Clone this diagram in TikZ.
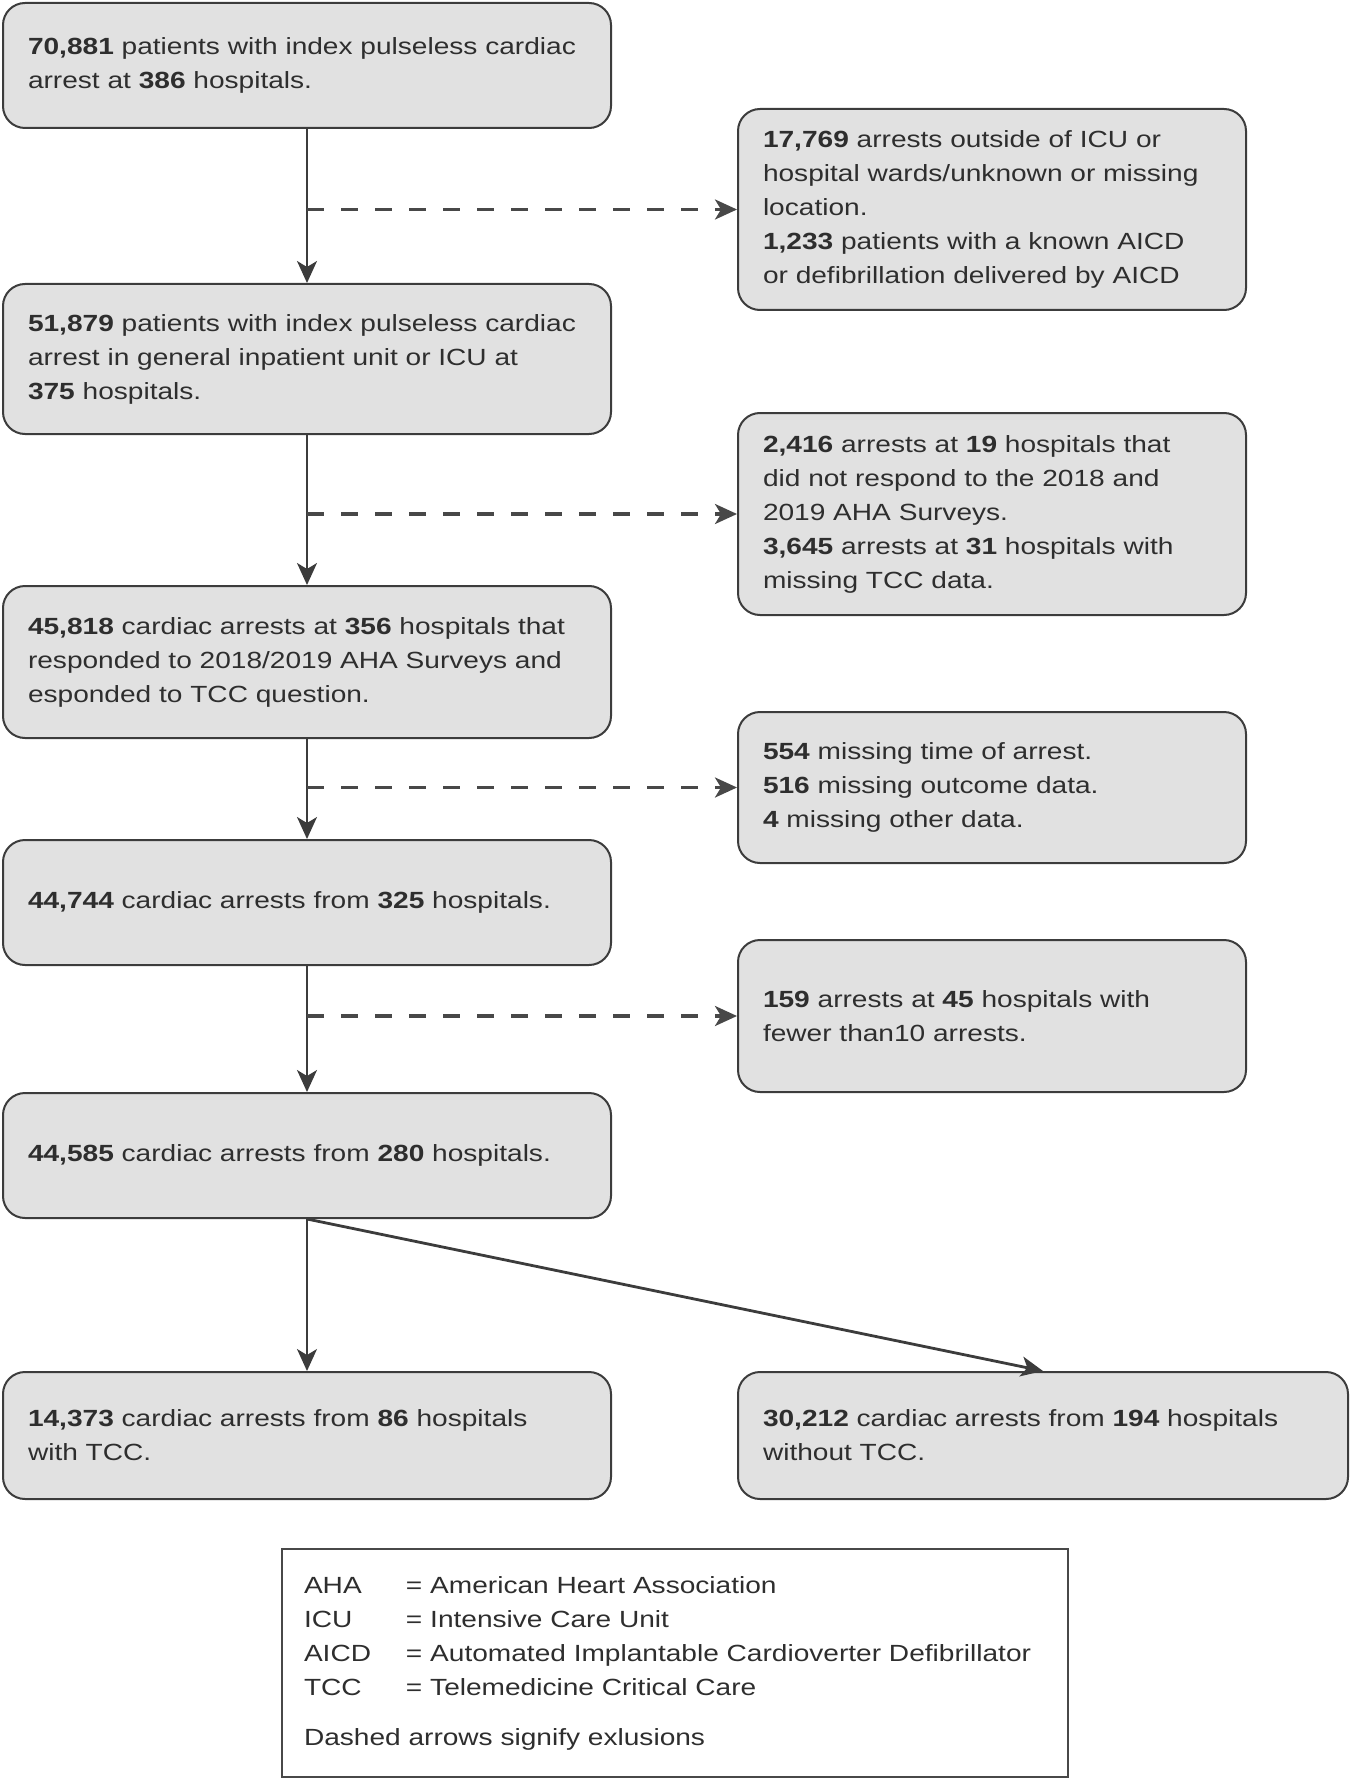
\documentclass[tikz,border=0pt]{standalone}
\usepackage{fontspec}
\setmainfont{Liberation Sans}[FakeStretch=1.2]
\usetikzlibrary{arrows.meta}
\definecolor{boxfill}{HTML}{E1E1E1}
\definecolor{boxline}{HTML}{3C3C3C}
\definecolor{txt}{HTML}{2E2E2E}
\definecolor{dashcol}{HTML}{484848}

\begin{document}
\begin{tikzpicture}[
            x = 0.5pt, y = -0.5pt, % pixel grid, y pointing down
            > = {Stealth[length=11pt,width=10pt,inset=3pt]}, % arrow head style
            line width = 1pt % line style
        ]

        \tikzstyle{every node}=[
            font = \fontsize{11.7}{17}\selectfont,
            text = txt
        ]
        \tikzstyle{box}=[
            draw = boxline,
            line width = 1pt,
            fill = boxfill,
            rounded corners = 11pt,
            align = left,
            inner xsep = 12.5pt,
            inner ysep = 0pt
        ]
        \tikzstyle{main}=[box, text width = 279pt]
        \tikzstyle{excl}=[box, text width = 229pt]
        \tikzstyle{cut}=[->, draw = dashcol, line width = 1.6pt, dash pattern = on 8.5pt off 8.5pt]

        \useasboundingbox (0,0) rectangle (1350,1781);

        \node[main, minimum height = 62.5pt] (a) at (307,65.5)
            {\textbf{70,881} patients with index pulseless cardiac\\arrest at \textbf{386} hospitals.};
        \node[main, minimum height = 75pt] (b) at (307,359)
            {\textbf{51,879} patients with index pulseless cardiac\\arrest in general inpatient unit or ICU at\\\textbf{375} hospitals.};
        \node[main, minimum height = 76pt] (c) at (307,662)
            {\textbf{45,818} cardiac arrests at \textbf{356} hospitals that\\responded to 2018/2019 AHA Surveys and\\esponded to TCC question.};
        \node[main, minimum height = 62.5pt] (d) at (307,902.5)
            {\textbf{44,744} cardiac arrests from \textbf{325} hospitals.};
        \node[main, minimum height = 62.5pt] (e) at (307,1155.5)
            {\textbf{44,585} cardiac arrests from \textbf{280} hospitals.};
        \node[main, minimum height = 63.5pt] (f) at (307,1435.5)
            {\textbf{14,373} cardiac arrests from \textbf{86} hospitals\\with TCC.};
        \node[box, text width = 280pt, minimum height = 63.5pt] (g) at (1043,1435.5)
            {\textbf{30,212} cardiac arrests from \textbf{194} hospitals\\without TCC.};

        \node[excl, minimum height = 100.5pt] (x1) at (992,209.5)
            {\textbf{17,769} arrests outside of ICU or\\hospital wards/unknown or missing\\location.\\\textbf{1,233} patients with a known AICD\\or defibrillation delivered by AICD};
        \node[excl, minimum height = 101pt] (x2) at (992,514)
            {\textbf{2,416} arrests at \textbf{19} hospitals that\\did not respond to the 2018 and\\2019 AHA Surveys.\\\textbf{3,645} arrests at \textbf{31} hospitals with\\missing TCC data.};
        \node[excl, minimum height = 75.5pt] (x3) at (992,787.5)
            {\textbf{554} missing time of arrest.\\\textbf{516} missing outcome data.\\\textbf{4} missing other data.};
        \node[excl, minimum height = 76pt] (x4) at (992,1016)
            {\textbf{159} arrests at \textbf{45} hospitals with\\fewer than10 arrests.};

        \node[draw = dashcol, fill = white, line width = 1pt, align = left,
              text width = 371pt, inner xsep = 11pt, minimum height = 114pt] (leg) at (675,1663)
            {\makebox[51pt][l]{AHA}= American Heart Association\\
             \makebox[51pt][l]{ICU}= Intensive Care Unit\\
             \makebox[51pt][l]{AICD}= Automated Implantable Cardioverter Defibrillator\\
             \makebox[51pt][l]{TCC}= Telemedicine Critical Care\\[8pt]
             Dashed arrows signify exlusions};

        \draw[->, boxline] (a) -- (b);
        \draw[->, boxline] (b) -- (c);
        \draw[->, boxline] (c) -- (d);
        \draw[->, boxline] (d) -- (e);
        \draw[->, boxline] (e) -- (f);
        \draw[->, boxline, line width = 1.4pt] (e.south) -- (g.north);

        \draw[cut] (a.south |- x1.west) -- (x1.west);
        \draw[cut] (b.south |- x2.west) -- (x2.west);
        \draw[cut] (c.south |- x3.west) -- (x3.west);
        \draw[cut] (d.south |- x4.west) -- (x4.west);
    \end{tikzpicture}
\end{document}
